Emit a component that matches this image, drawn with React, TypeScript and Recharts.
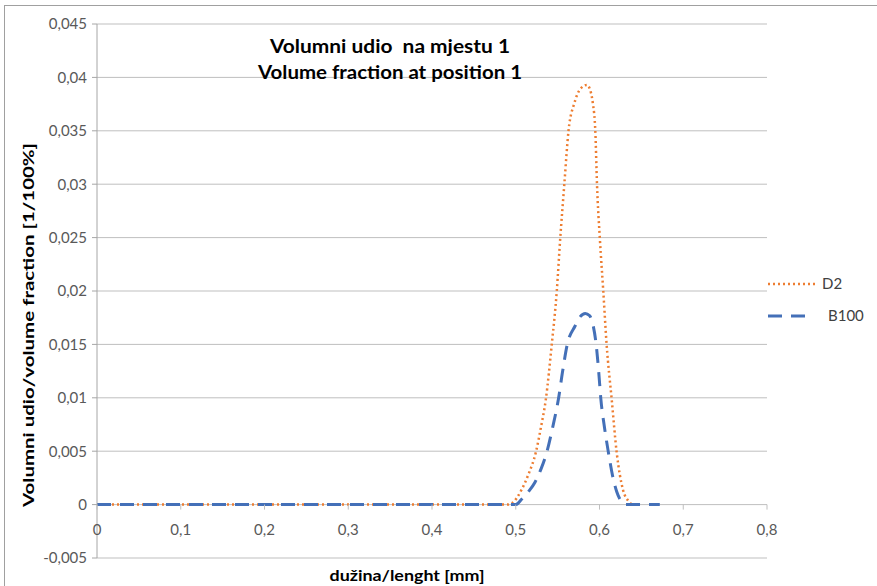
import { CartesianGrid, Legend, Line, LineChart, XAxis, YAxis } from "recharts"

// ── Data ──────────────────────────────────────────────────────────
const d2X = [0, 0.25, 0.49, 0.495, 0.507, 0.515, 0.524, 0.53, 0.536, 0.543, 0.549, 0.553, 0.558, 0.563, 0.57, 0.577, 0.585, 0.59, 0.592, 0.595, 0.597, 0.6005, 0.6045, 0.6085, 0.6145, 0.6205, 0.628, 0.635, 0.64, 0.645]
const d2Y = [0, 0, 0, 0.0001, 0.0014, 0.0028, 0.0049, 0.0072, 0.0099, 0.015, 0.02, 0.0248, 0.03, 0.035, 0.0376, 0.0389, 0.0393, 0.0385, 0.0376, 0.035, 0.03, 0.0248, 0.02, 0.015, 0.0099, 0.0049, 0.0014, 0.0003, 0, 0]

const b100X = [0, 0.25, 0.5, 0.507, 0.515, 0.523, 0.53, 0.537, 0.544, 0.551, 0.556, 0.5615, 0.5707, 0.577, 0.583, 0.588, 0.5926, 0.596, 0.599, 0.6016, 0.606, 0.6106, 0.6156, 0.6206, 0.626, 0.63, 0.672]
const b100Y = [0, 0, 0, 0.0005, 0.0012, 0.0021, 0.0033, 0.0049, 0.0072, 0.0099, 0.0125, 0.015, 0.0167, 0.0176, 0.0179, 0.0177, 0.0167, 0.015, 0.0125, 0.0099, 0.0072, 0.0049, 0.0027, 0.0012, 0.0003, 0, 0]

const seriesNames = ["D2", "B100"]
const xTicks = [0, 0.1, 0.2, 0.3, 0.4, 0.5, 0.6, 0.7, 0.8]
const yTicks = [-0.005, 0, 0.005, 0.01, 0.015, 0.02, 0.025, 0.03, 0.035, 0.04, 0.045]

const titleLines = ["Volumni udio  na mjestu 1", "Volume fraction at position 1"]
const xLabel = "dužina/lenght [mm]"
const yLabel = "Volumni udio/volume fraction [1/100%]"

const d2Data = d2X.map((x, i) => ({ x, v: d2Y[i] }))
const b100Data = b100X.map((x, i) => ({ x, v: b100Y[i] }))

// ── Layout ────────────────────────────────────────────────────────
const W = 877
const H = 586
const TOP = 24
const X_AXIS_H = 28
const LEGEND_W = 110
const PLOT_H = H - TOP - X_AXIS_H
const FONT = "Lato, 'Open Sans', sans-serif"
const ORANGE = "#ED7D31"
const BLUE = "#4470B8"
const GRID = "#BFBFBF"

const fmt = (v: number) => String(v).replace(".", ",")

// x ticks sit under the y=0 line, like Excel's crossing axis
const zeroOffset = PLOT_H * (0 - yTicks[0]) / (yTicks[yTicks.length - 1] - yTicks[0])

const XTick = (props: any) => {
    const { x, y, payload } = props
    const zy = y - zeroOffset
    return (
        <g>
            <line x1={x} x2={x} y1={zy} y2={zy + 5} stroke={GRID} />
            <text x={x} y={zy + 25} textAnchor="middle" dy="0.355em" fontSize={15} fill="#595959" fontFamily={FONT}>
                {fmt(payload.value)}
            </text>
        </g>
    )
}

const LegendBox = (props: any) => {
    const items = [...(props.payload || [])].sort(
        (a: any, b: any) => seriesNames.indexOf(a.value) - seriesNames.indexOf(b.value)
    )
    return (
        <svg width={LEGEND_W} height={60} style={{ display: "block" }}>
            {items.map((entry: any, i: number) => {
                const dashed = entry.value === "B100"
                const y = 12 + i * 32
                return (
                    <g key={entry.value}>
                        <line
                            x1={3} x2={dashed ? 45 : 50} y1={y} y2={y}
                            stroke={entry.color}
                            strokeWidth={dashed ? 3 : 2.5}
                            strokeDasharray={dashed ? "14 9" : "2 3"}
                        />
                        <text x={dashed ? 63 : 57} y={y} dy="0.355em" fontSize={15} fill="#404040" fontFamily={FONT}>
                            {entry.value}
                        </text>
                    </g>
                )
            })}
        </svg>
    )
}

export default function App() {
    return (
        <div style={{ position: "absolute", left: 0, top: 0, width: W, height: H, background: "#fff", overflow: "hidden", fontFamily: FONT }}>
            <div style={{ position: "absolute", left: 4, top: 5, width: W + 20, height: H + 20, border: "1px solid #A0A0A0" }} />
            <LineChart width={W} height={H} margin={{ top: TOP, right: 0, bottom: 0, left: 0 }}>
                <CartesianGrid vertical={false} stroke={GRID} />
                <XAxis
                    type="number"
                    dataKey="x"
                    domain={[0, 0.8]}
                    ticks={xTicks}
                    height={X_AXIS_H}
                    axisLine={false}
                    tickLine={false}
                    tickSize={0}
                    tickMargin={0}
                    tick={<XTick />}
                    interval={0}
                    allowDuplicatedCategory={false}
                />
                <YAxis
                    type="number"
                    domain={[-0.005, 0.045]}
                    ticks={yTicks}
                    width={97}
                    interval={0}
                    tickFormatter={fmt}
                    tick={{ fontSize: 15, fill: "#595959", fontFamily: FONT }}
                    tickSize={5}
                    tickMargin={5}
                    axisLine={{ stroke: "#A6A6A6" }}
                    tickLine={{ stroke: "#A6A6A6" }}
                    label={{
                        content: () => (
                            <text
                                x={28} y={325}
                                transform="rotate(-90 28 325)"
                                textAnchor="middle"
                                dy="0.355em"
                                fontSize={16}
                                fontWeight="bold"
                                fill="#000"
                                fontFamily={FONT}
                                textLength={364}
                                lengthAdjust="spacingAndGlyphs"
                            >
                                {yLabel}
                            </text>
                        ),
                    }}
                />
                <Legend
                    layout="vertical"
                    align="right"
                    verticalAlign="middle"
                    width={LEGEND_W}
                    content={<LegendBox />}
                    wrapperStyle={{ position: "absolute", left: W - LEGEND_W - 2, top: 272, width: LEGEND_W }}
                />
                <Line
                    name="D2"
                    data={d2Data}
                    dataKey="v"
                    type="monotone"
                    stroke={ORANGE}
                    strokeWidth={2.5}
                    strokeDasharray="2 3"
                    dot={false}
                    activeDot={false}
                    isAnimationActive={false}
                />
                <Line
                    name="B100"
                    data={b100Data}
                    dataKey="v"
                    type="monotone"
                    stroke={BLUE}
                    strokeWidth={3}
                    strokeDasharray="14 9"
                    dot={false}
                    activeDot={false}
                    isAnimationActive={false}
                />
            </LineChart>
            <svg width={W} height={H} style={{ position: "absolute", left: 0, top: 0, pointerEvents: "none" }}>
                {titleLines.map((t, i) => (
                    <text
                        key={t}
                        x={390}
                        y={46 + i * 26}
                        dy="0.355em"
                        textAnchor="middle"
                        fontSize={19}
                        fontWeight="bold"
                        fill="#000"
                        fontFamily={FONT}
                        style={{ whiteSpace: "pre" }}
                        textLength={i === 0 ? 240 : 264}
                        lengthAdjust="spacingAndGlyphs"
                    >
                        {t}
                    </text>
                ))}
                <text
                    x={407}
                    y={575}
                    dy="0.355em"
                    textAnchor="middle"
                    fontSize={16}
                    fontWeight="bold"
                    fill="#000"
                    fontFamily={FONT}
                    textLength={155}
                    lengthAdjust="spacingAndGlyphs"
                >
                    {xLabel}
                </text>
            </svg>
        </div>
    )
}
